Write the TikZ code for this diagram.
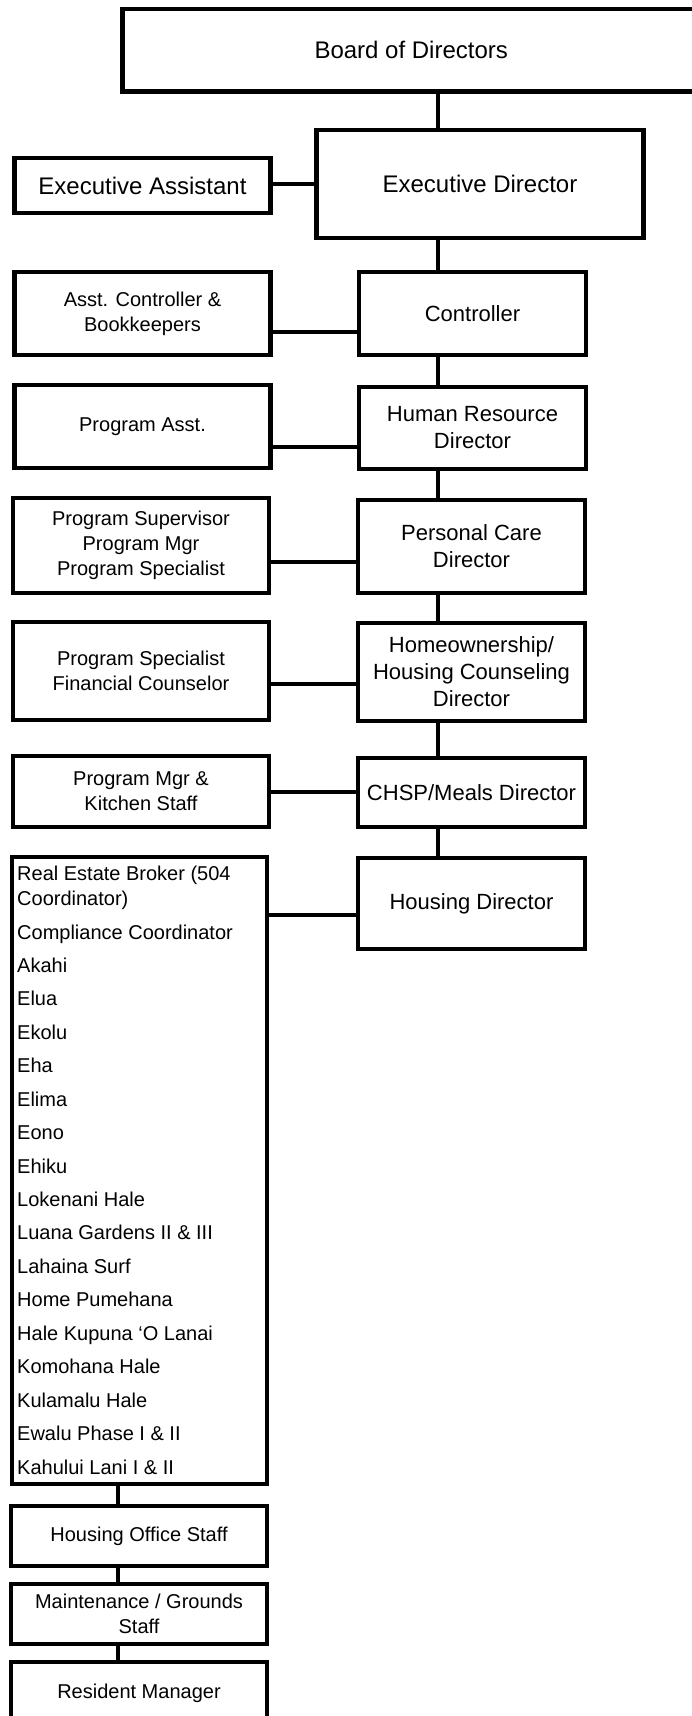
\documentclass[tikz,border=0pt]{standalone}
\usepackage{fontspec}
\setmainfont{Liberation Sans}
\usetikzlibrary{calc}

\tikzset{
  box/.style={draw, line width=4.6pt, inner sep=0pt, align=center},
  link/.style={line width=4pt},
  bigtxt/.style={font=\fontsize{24}{29}\selectfont},
  midtxt/.style={font=\fontsize{22}{27}\selectfont},
  smalltxt/.style={font=\fontsize{20}{25}\selectfont},
  leftbox/.style={box, smalltxt, minimum width=256pt},
  rightbox/.style={box, midtxt, minimum width=227pt},
  siteitem/.style={anchor=base west, inner sep=0pt, smalltxt},
}

\begin{document}
\begin{tikzpicture}[x=1pt,y=-1pt]

    \useasboundingbox (0,0) rectangle (691,1716);

    % Top of the chart
    \node[box, bigtxt, minimum width=577.5pt, minimum height=82.5pt] (board) at (411.25,50.25) {Board of Directors};
    \node[box, bigtxt, minimum width=327pt, minimum height=108pt] (execdir) at (480,184) {Executive Director};
    \node[box, bigtxt, minimum width=256pt, minimum height=55pt] (execasst) at (142.5,185.5) {Executive Assistant};

    % Directors
    \node[rightbox, minimum height=83pt] (ctrl) at (472.5,313.5) {Controller};
    \node[rightbox, minimum height=82pt] (hrdir) at (472.5,428) {Human Resource\\Director};
    \node[rightbox, minimum height=93pt] (pcdir) at (471.5,546.5) {Personal Care\\Director};
    \node[rightbox, minimum height=98pt] (hocdir) at (471.5,672) {Homeownership/\\Housing Counseling\\Director};
    \node[rightbox, minimum height=69pt] (mealsdir) at (471.5,792.5) {CHSP/Meals Director};
    \node[rightbox, minimum height=91pt] (housdir) at (471.5,903.5) {Housing Director};

    % Staff boxes
    \node[leftbox, minimum height=83pt] (asstctrl) at (142.5,313.5) {Asst. Controller \&\\Bookkeepers};
    \node[leftbox, minimum height=83pt] (progasst) at (142.5,426.5) {Program Asst.};
    \node[leftbox, minimum height=95pt] (progsup) at (141,545.5) {Program Supervisor\\Program Mgr\\Program Specialist};
    \node[leftbox, minimum height=98pt] (progspec) at (141,671) {Program Specialist\\Financial Counselor};
    \node[leftbox, minimum height=71pt] (progmgr) at (141,791.5) {Program Mgr \&\\Kitchen Staff};

    % Housing sites
    \node[box, minimum width=255pt, minimum height=627pt] (sites) at (139.5,1170.5) {};
    \node[siteitem] (broker) at (17,880) {Real Estate Broker (504};
    \node[siteitem] (brokerb) at (17,905) {Coordinator)};
    \foreach \txt [count=\i from 0] in {Compliance Coordinator, Akahi, Elua, Ekolu, Eha, Elima, Eono, Ehiku,
        Lokenani Hale, Luana Gardens II \& III, Lahaina Surf, Home Pumehana, Hale Kupuna ‘O Lanai,
        Komohana Hale, Kulamalu Hale, Ewalu Phase I \& II, Kahului Lani I \& II}
        \node[siteitem] (site\i) at (17,939+33.44*\i) {\txt};

    \node[leftbox, minimum height=60pt] (officestaff) at (139,1536) {Housing Office Staff};
    \node[leftbox, minimum height=60pt] (maintstaff) at (139,1614) {Maintenance / Grounds\\Staff};
    \node[leftbox, minimum height=62pt] (resmgr) at (139,1693) {Resident Manager};

    % Trunk
    \coordinate (trunk) at (437.5,0);
    \foreach \a/\b in {board/execdir, execdir/ctrl, ctrl/hrdir, hrdir/pcdir, pcdir/hocdir, hocdir/mealsdir, mealsdir/housdir}
        \draw[link] (\a.south -| trunk) -- (\b.north -| trunk);

    % Side links
    \foreach \l/\r/\d in {execasst/execdir/2, asstctrl/ctrl/-18, progasst/hrdir/-20.5, progsup/pcdir/-16, progspec/hocdir/-13, progmgr/mealsdir/0}
        \draw[link] ([yshift=\d pt]\l.east) -- ([yshift=\d pt]\l.east -| \r.west);
    \draw[link] ([yshift=-11.5pt]housdir.west) -- ([yshift=-11.5pt]housdir.west -| sites.east);

    % Bottom chain
    \coordinate (stem) at (117.5,0);
    \foreach \a/\b in {sites/officestaff, officestaff/maintstaff, maintstaff/resmgr}
        \draw[link] (\a.south -| stem) -- (\b.north -| stem);

\end{tikzpicture}
\end{document}
